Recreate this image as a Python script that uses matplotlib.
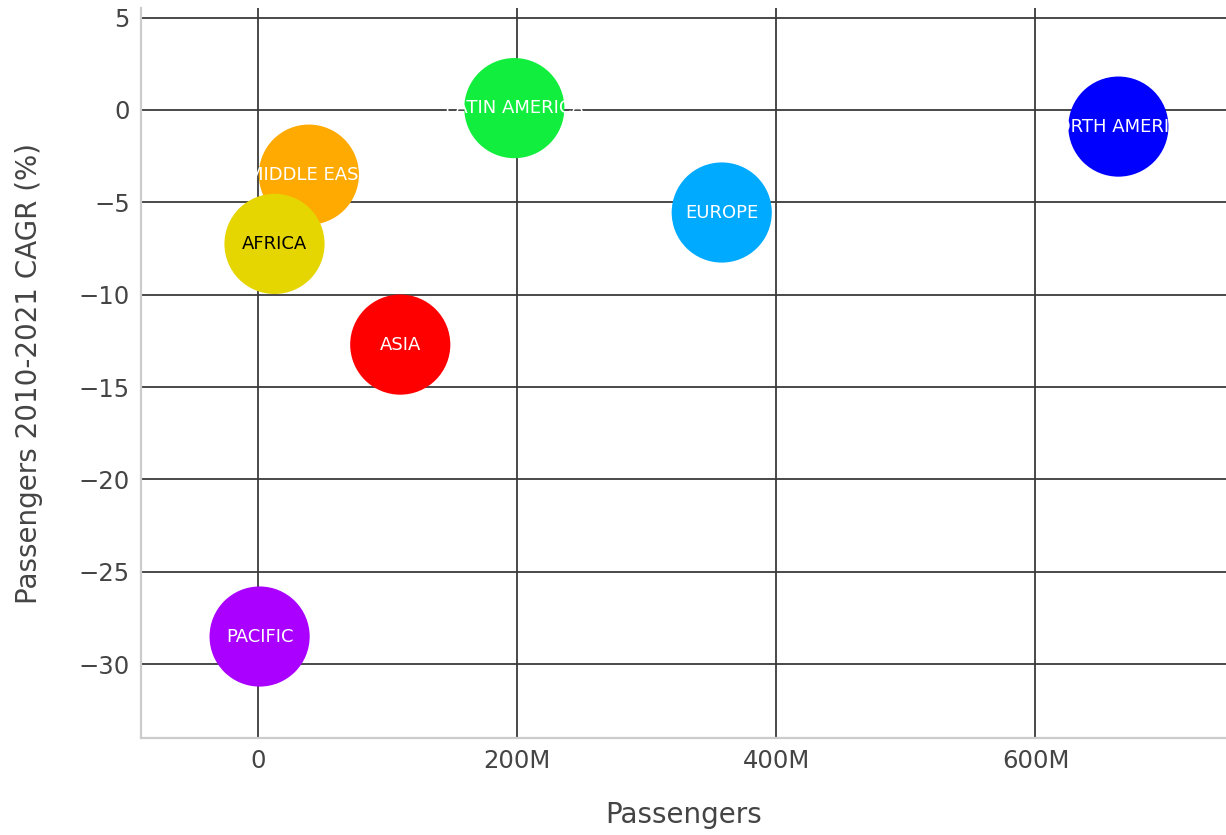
import matplotlib.pyplot as plt
from matplotlib.ticker import FuncFormatter

# data
regions = ['MIDDLE EAST', 'AFRICA', 'LATIN AMERICA', 'EUROPE', 'NORTH AMERICA', 'ASIA', 'PACIFIC']
passengers = [39.5e6, 13e6, 198e6, 358e6, 664e6, 110e6, 1.5e6]
cagr = [-3.5, -7.25, 0.1, -5.55, -0.9, -12.7, -28.5]
colors = ['#FFAA00', '#E5D500', '#11EE3D', '#00AAFF', '#0000FF', '#FF0000', '#AA00FF']
text_colors = ['white', 'black', 'white', 'white', 'white', 'white', 'white']

fig = plt.figure(figsize=(12.26, 8.35), dpi=100)
ax = fig.add_axes([0.115, 0.116, 0.885, 0.874])

ax.scatter(passengers, cagr, s=5200, c=colors, edgecolors='none', zorder=3)
for x, y, name, tc in zip(passengers, cagr, regions, text_colors):
    ax.text(x, y, name, ha='center', va='center', fontsize=13, color=tc, zorder=4)

ax.set_xlim(-90e6, 747e6)
ax.set_ylim(-34, 5.5)
ax.set_xticks([0, 200e6, 400e6, 600e6])
ax.set_yticks([5, 0, -5, -10, -15, -20, -25, -30])
ax.xaxis.set_major_formatter(FuncFormatter(lambda v, p: '0' if v == 0 else f'{v/1e6:.0f}M'))

ax.grid(True, color='#3a3a3a', linewidth=1.3, zorder=0)
ax.set_axisbelow(True)
ax.tick_params(length=0, labelsize=17.5, labelcolor='#444444', pad=8)
for side in ['top', 'right']:
    ax.spines[side].set_visible(False)
for side in ['left', 'bottom']:
    ax.spines[side].set_color('#cccccc')
    ax.spines[side].set_linewidth(1.6)

ax.set_xlabel('Passengers', fontsize=20, color='#444444', labelpad=20)
ax.set_ylabel('Passengers 2010-2021 CAGR (%)', fontsize=20, color='#444444', labelpad=26)

fig.savefig('out.png', dpi=100)
